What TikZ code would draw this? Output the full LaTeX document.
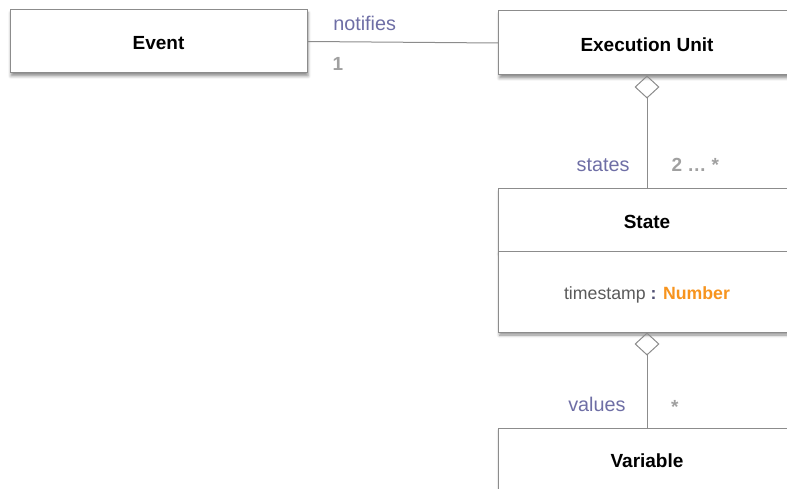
\documentclass[tikz,border=0pt]{standalone}
\usepackage{fontspec}
\setmainfont{Liberation Sans}
\usetikzlibrary{shadows.blur,arrows.meta}
\definecolor{boxgray}{RGB}{140,140,140}
\definecolor{rolepurple}{RGB}{110,110,165}
\definecolor{multgray}{RGB}{160,160,160}
\definecolor{attrgray}{RGB}{90,90,90}
\definecolor{colonblue}{RGB}{80,80,115}
\definecolor{typeorange}{RGB}{247,148,30}

\begin{document}
\begin{tikzpicture}[x=1pt, y=-1pt, font=\fontsize{19}{23}\selectfont,
    umlbox/.style={draw=boxgray, line width=1pt, fill=white, minimum width=297pt, inner sep=0pt,
        text height=16.5pt, text depth=0pt,
        blur shadow={shadow xshift=1pt, shadow yshift=-3pt, shadow blur radius=3pt, shadow opacity=45}},
    assoc/.style={draw=boxgray, line width=1pt},
    agg/.style={assoc, {Diamond[open, length=23pt, width=25pt]}-},
    role/.style={text=rolepurple, inner sep=0pt, font=\fontsize{19.8}{23}\selectfont},
    mult/.style={text=multgray, inner sep=0pt, font=\fontsize{19}{23}\selectfont\bfseries}]
    \useasboundingbox (0,0) rectangle (787,489);
    \clip (0,0) rectangle (787,489);

    % Event - Top Left
    \node[umlbox, minimum height=63pt] (event) at (158.5,41.5) {\textbf{Event}};

    % Execution Unit - Top Right
    \node[umlbox, minimum height=64pt] (execunit) at (647,43) {\textbf{Execution Unit}};

    % State with its attribute compartment
    \node[umlbox, minimum height=62pt] (state) at (647,220) {\textbf{State}};
    \node[umlbox, minimum height=81pt, font=\fontsize{17.7}{21}\selectfont] (stateattr) at (647,291.5)
        {\textcolor{attrgray}{timestamp} \textcolor{colonblue}{\textbf{:}} \textcolor{typeorange}{\textbf{Number}}};

    % Variable - Bottom Right
    \node[umlbox, minimum height=62pt] (variable) at (647,459) {\textbf{Variable}};

    % Associations
    \draw[assoc] (event.east) -- (execunit.west)
        node[pos=0.3, above=11pt, role] {notifies}
        node[pos=0.16, below=15pt, mult] {1};
    \draw[agg] (execunit.south) -- (state.north)
        node[pos=0.79, left=17pt, role] {states}
        node[pos=0.79, right=24pt, mult] {2 … *};
    \draw[agg] (stateattr.south) -- (variable.north)
        node[pos=0.76, left=21pt, role] {values}
        node[pos=0.78, right=23.5pt, mult] {*};
\end{tikzpicture}
\end{document}
